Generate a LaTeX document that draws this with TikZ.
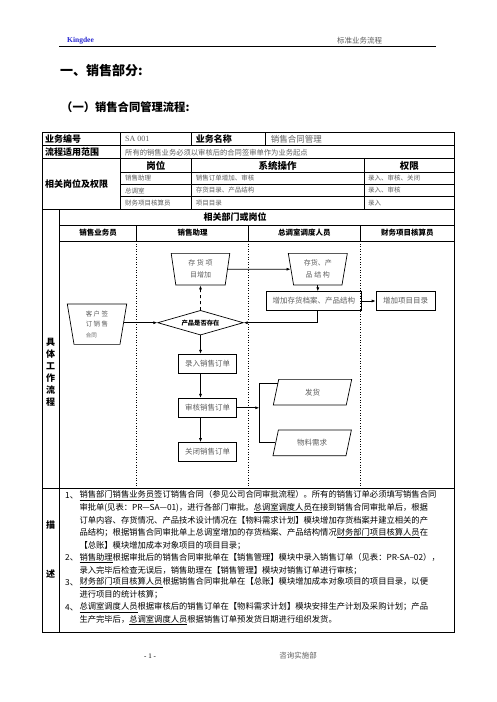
\documentclass[tikz,border=0pt]{standalone}
\usepackage{fontspec}
\setmainfont{Noto Sans CJK SC}
\newfontfamily\latinserif{Liberation Serif}
\usetikzlibrary{shapes.geometric,arrows.meta}
\XeTeXlinebreaklocale "zh"
\XeTeXlinebreakskip=0pt plus 1pt
\newcommand{\fsz}[1]{\fontsize{#1}{#1}\selectfont}
\newcommand{\dline}[1]{\makebox[371pt][s]{#1}}
\definecolor{kdblue}{RGB}{40,40,210}
\definecolor{txtgray}{RGB}{95,95,95}

\begin{document}
\begin{tikzpicture}[x=1pt, y=-1pt,
        >={Latex[length=4pt,width=3pt]},
        every node/.style={inner sep=0pt},
        grid/.style={line width=0.7pt},
        lane/.style={line width=0.6pt, dotted},
        headtxt/.style={font=\fsz{9pt}\bfseries, anchor=west},
        celltxt/.style={font=\fsz{6.5pt}, text=txtgray, anchor=west},
        colhead/.style={font=\fsz{9.5pt}\bfseries},
        lanehead/.style={font=\fsz{7.5pt}\bfseries},
        sidetxt/.style={font=\fsz{9pt}\bfseries, align=center},
        desc/.style={font=\fsz{8.3pt}, anchor=west},
        flowbox/.style={draw, line width=0.7pt, font=\fsz{7.5pt}, text=txtgray, minimum height=19pt},
        docshape/.style={draw, trapezium, shape border rotate=180, trapezium stretches body,
            line width=0.7pt, text=txtgray, align=center},
        datashape/.style={draw, trapezium, trapezium left angle=52, trapezium right angle=128,
            trapezium stretches body, line width=0.7pt, font=\fsz{7.5pt}, text=txtgray,
            minimum width=78.4pt, minimum height=25.7pt}
    ]
    \fill[white] (0,0) rectangle (496,702);
    \useasboundingbox (0,0) rectangle (496,702);

    % Kopfzeile
    \node[font=\latinserif\bfseries\fsz{7.5pt}, text=kdblue, anchor=west] (brand) at (67,41) {Kingdee};
    \node[font=\fsz{7.5pt}, text=txtgray, anchor=west] (doctitle) at (337,41) {标准业务流程};
    \draw[line width=0.8pt] (59,46) -- (436,46);

    % Titel
    \node[font=\fsz{13pt}\bfseries, anchor=west] (title) at (60,71) {一、销售部分:};
    \node[font=\fsz{11.3pt}\bfseries, anchor=west] (subtitle) at (61,107) {（一）销售合同管理流程:};

    % Tabelle
    \draw[grid] (42,132.3) rectangle (454.3,632.7);
    \draw[grid] (42,145.7) -- (454.3,145.7);
    \draw[grid] (42,158.3) -- (454.3,158.3);
    \draw[grid] (120.7,172.7) -- (454.3,172.7);
    \draw[grid] (120.7,184.3) -- (454.3,184.3);
    \draw[grid] (120.7,196.3) -- (454.3,196.3);
    \draw[grid] (42,209.5) -- (454.3,209.5);
    \draw[grid] (59.3,225) -- (454.3,225);
    \draw[grid] (59.3,241) -- (454.3,241);
    \draw[grid] (42,488) -- (454.3,488);
    \draw[grid] (120.7,132.3) -- (120.7,209.5);
    \draw[grid] (191,132.3) -- (191,145.7);
    \draw[grid] (265.3,132.3) -- (265.3,145.7);
    \draw[grid] (191,158.3) -- (191,209.5);
    \draw[grid] (364.3,158.3) -- (364.3,209.5);
    \draw[grid] (59.3,209.5) -- (59.3,632.7);

    % Bahnen
    \draw[grid] (136.7,225) -- (136.7,241);
    \draw[grid] (248.3,225) -- (248.3,241);
    \draw[grid] (360.3,225) -- (360.3,241);
    \draw[lane] (136.7,241) -- (136.7,488);
    \draw[lane] (248.3,241) -- (248.3,488);
    \draw[lane] (360.3,241) -- (360.3,488);

    % Tabellentexte
    \node[headtxt] (codelbl) at (45,139) {业务编号};
    \node[font=\latinserif\fsz{8pt}, text=txtgray, anchor=west] (codeval) at (125,139) {SA 001};
    \node[headtxt] (namelbl) at (195.7,139) {业务名称};
    \node[font=\fsz{8.5pt}, text=txtgray, anchor=west] (nameval) at (270.7,139) {销售合同管理};
    \node[headtxt] (rangelbl) at (45,152.3) {流程适用范围};
    \node[font=\fsz{7.3pt}, text=txtgray, anchor=west] (rangeval) at (125,152.3) {所有的销售业务必须以审核后的合同签审单作为业务起点};
    \node[headtxt] (rolelbl) at (45,184) {相关岗位及权限};
    \node[colhead] (posthd) at (155.9,165.5) {岗位};
    \node[colhead] (ophd) at (277.7,165.5) {系统操作};
    \node[colhead] (righthd) at (409.3,165.5) {权限};
    \node[celltxt] (post1) at (125,178.5) {销售助理};
    \node[celltxt] (op1) at (195.7,178.5) {销售订单增加、审核};
    \node[celltxt] (right1) at (368,178.5) {录入、审核、关闭};
    \node[celltxt] (post2) at (125,190.5) {总调室};
    \node[celltxt] (op2) at (195.7,190.5) {存货目录、产品结构};
    \node[celltxt] (right2) at (368,190.5) {录入、审核};
    \node[celltxt] (post3) at (125,203) {财务项目核算员};
    \node[celltxt] (op3) at (195.7,203) {项目目录};
    \node[celltxt] (right3) at (368,203) {录入};
    \node[font=\fsz{9pt}\bfseries] (depthd) at (235,217.3) {相关部门或岗位};
    \node[lanehead] (lane1) at (98,233) {销售业务员};
    \node[lanehead] (lane2) at (192.5,233) {销售助理};
    \node[lanehead] (lane3) at (304.3,233) {总调室调度人员};
    \node[lanehead] (lane4) at (407.3,233) {财务项目核算员};
    \node[sidetxt] (flowlbl) at (50.5,372) {具\\[3pt]体\\[3pt]工\\[3pt]作\\[3pt]流\\[3pt]程};
    \node[sidetxt] (desclbl1) at (50.5,525) {描};
    \node[sidetxt] (desclbl2) at (50.5,574) {述};

    % Ablauf
    \node[docshape, trapezium angle=76, minimum width=59.4pt, minimum height=40.3pt, align=left,
        font=\fsz{6.5pt}] (contract) at (97,324.2) {客 户 签\\[4pt]订 销 售\\[4pt]{\fsz{5.5pt}合同}};
    \node[docshape, trapezium angle=76, minimum width=58.6pt, minimum height=31.7pt,
        font=\fsz{7pt}] (itemadd) at (200.5,269.2) {存 货 项\\[5pt]目增加};
    \node[draw, diamond, aspect=3.5, line width=0.7pt, minimum width=85.6pt, minimum height=24.7pt,
        font=\fsz{6.3pt}\bfseries] (exists) at (200.5,322.7) {产品是否存在};
    \node[flowbox, minimum width=58.4pt] (enter) at (207.5,363.7) {录入销售订单};
    \node[flowbox, minimum width=58.4pt] (audit) at (207.5,407.8) {审核销售订单};
    \node[flowbox, minimum width=58.4pt] (close) at (207.5,452) {关闭销售订单};
    \node[docshape, trapezium angle=74, minimum width=59pt, minimum height=31.7pt,
        font=\fsz{7pt}] (bom) at (317.8,269.2) {存货、产\\[5pt]品 结 构};
    \node[flowbox, minimum width=95.7pt, minimum height=18.6pt] (addbom) at (313.8,301) {增加存货档案、产品结构};
    \node[flowbox, minimum width=59.3pt, minimum height=18.6pt] (addproj) at (405.7,301) {增加项目目录};
    \node[datashape] (ship) at (312.5,392.2) {发货};
    \node[datashape] (mrp) at (312.2,442.8) {物料需求};
    \coordinate (fork) at (259.3,407.8);

    \draw[->, line width=0.7pt] (contract.east |- exists.west) -- (exists.west);
    \draw[->, line width=0.7pt, dashed] (exists.north) -- (itemadd.south);
    \draw[->, line width=0.7pt] (exists.south) -- (exists.south |- enter.north);
    \draw[->, line width=0.7pt] (exists.south |- enter.south) -- (exists.south |- audit.north);
    \draw[->, line width=0.7pt] (exists.south |- audit.south) -- (exists.south |- close.north);
    \draw[->, line width=0.7pt] (itemadd.east) -- (bom.west);
    \draw[->, line width=0.7pt] (bom.south) -- (bom.south |- addbom.north);
    \draw[->, line width=0.7pt] (addbom.east) -- (addproj.west);
    \draw[->, line width=0.7pt] (bom.south |- addbom.south) |- (exists.east);
    \draw[->, line width=0.7pt] (audit.east) -- (fork);
    \draw[line width=0.7pt] (ship.165) -| (fork) |- (mrp.west);

    % Beschreibung
    \node[desc] (num1) at (65,495.7) {1、};
    \node[desc] (d1) at (79.3,495.7) {\dline{\underline{销售部门销售业务员}签订销售合同（参见公司合同审批流程）。所有的销售订单必须填写销售合同}};
    \node[desc] (d2) at (79.3,508.1) {\dline{审批单(见表：PR—SA—01)，进行各部门审批。\underline{总调室调度人员}在接到销售合同审批单后，根据}};
    \node[desc] (d3) at (79.3,520.6) {\dline{订单内容、存货情况、产品技术设计情况在【物料需求计划】模块增加存货档案并建立相关的产}};
    \node[desc] (d4) at (79.3,533) {\dline{品结构；根据销售合同审批单上总调室增加的存货档案、产品结构情况\underline{财务部门项目核算人员}在}};
    \node[desc] (d5) at (79.3,545.4) {【总账】模块增加成本对象项目的项目目录；};
    \node[desc] (num2) at (65,557.9) {2、};
    \node[desc] (d6) at (79.3,557.9) {\dline{\underline{销售助理}根据审批后的销售合同审批单在【销售管理】模块中录入销售订单（见表：PR-SA--02），}};
    \node[desc] (d7) at (79.3,570.3) {录入完毕后检查无误后，销售助理在【销售管理】模块对销售订单进行审核；};
    \node[desc] (num3) at (65,582.7) {3、};
    \node[desc] (d8) at (79.3,582.7) {\dline{\underline{财务部门项目核算人员}根据销售合同审批单在【总账】模块增加成本对象项目的项目目录，以便}};
    \node[desc] (d9) at (79.3,595.1) {进行项目的统计核算；};
    \node[desc] (num4) at (65,607.6) {4、};
    \node[desc] (d10) at (79.3,607.6) {\dline{\underline{总调室调度人员}根据审核后的销售订单在【物料需求计划】模块安排生产计划及采购计划；产品}};
    \node[desc] (d11) at (79.3,620) {生产完毕后，\underline{总调室调度人员}根据销售订单预发货日期进行组织发货。};

    % Fusszeile
    \node[font=\latinserif\fsz{7pt}] (pageno) at (150,656) {- 1 -};
    \node[font=\fsz{7.5pt}, text=txtgray] (dept) at (298,656) {咨询实施部};
\end{tikzpicture}
\end{document}
